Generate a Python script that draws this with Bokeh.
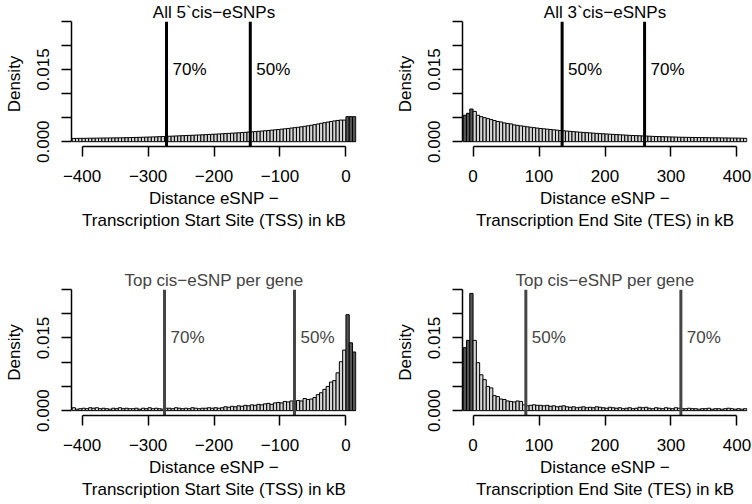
import numpy as np
from bokeh.plotting import figure
from bokeh.layouts import column, row
from bokeh.models import Range1d, FixedTicker, ColumnDataSource
from bokeh.core.properties import value
from bokeh.embed import file_html
from bokeh.resources import INLINE

# ---------------- data ----------------
BIN = 5
tss_edges = list(range(-415, 15, BIN))   # left edges of 5 kB bins (TSS panels)
tes_edges = list(range(-15, 415, BIN))   # left edges of 5 kB bins (TES panels)

all5_density = [
    0.00068, 0.00069, 0.00070, 0.00070, 0.00071, 0.00072, 0.00073, 0.00074, 0.00075, 0.00076,
    0.00077, 0.00078, 0.00079, 0.00080, 0.00081, 0.00082, 0.00083, 0.00085, 0.00087, 0.00089,
    0.00091, 0.00093, 0.00095, 0.00097, 0.00099, 0.00101, 0.00104, 0.00107, 0.00110, 0.00113,
    0.00116, 0.00119, 0.00122, 0.00125, 0.00128, 0.00131, 0.00134, 0.00137, 0.00140, 0.00143,
    0.00147, 0.00150, 0.00154, 0.00157, 0.00161, 0.00165, 0.00169, 0.00173, 0.00177, 0.00181,
    0.00185, 0.00190, 0.00195, 0.00200, 0.00205, 0.00210, 0.00216, 0.00222, 0.00228, 0.00234,
    0.00240, 0.00247, 0.00254, 0.00261, 0.00268, 0.00276, 0.00284, 0.00292, 0.00300, 0.00310,
    0.00320, 0.00330, 0.00342, 0.00355, 0.00368, 0.00382, 0.00395, 0.00408, 0.00420, 0.00432,
    0.00442, 0.00450, 0.00450, 0.00520, 0.00520, 0.00520,
]
all3_density = [
    0.00550, 0.00590, 0.00680, 0.00630, 0.00550, 0.00520, 0.00500, 0.00480, 0.00460, 0.00440,
    0.00420, 0.00410, 0.00390, 0.00380, 0.00370, 0.00350, 0.00340, 0.00330, 0.00320, 0.00310,
    0.00300, 0.00292, 0.00283, 0.00275, 0.00268, 0.00261, 0.00254, 0.00247, 0.00240, 0.00233,
    0.00227, 0.00221, 0.00215, 0.00209, 0.00203, 0.00198, 0.00193, 0.00188, 0.00183, 0.00178,
    0.00173, 0.00168, 0.00164, 0.00160, 0.00156, 0.00152, 0.00148, 0.00144, 0.00140, 0.00136,
    0.00132, 0.00129, 0.00126, 0.00123, 0.00120, 0.00117, 0.00114, 0.00111, 0.00108, 0.00106,
    0.00104, 0.00102, 0.00100, 0.00098, 0.00096, 0.00094, 0.00092, 0.00091, 0.00090, 0.00088,
    0.00087, 0.00086, 0.00085, 0.00084, 0.00083, 0.00082, 0.00081, 0.00080, 0.00079, 0.00078,
    0.00077, 0.00076, 0.00075, 0.00074, 0.00072, 0.00070,
]
top5_density = [
    0.0006, 0.0003, 0.0004, 0.0005, 0.0004, 0.0006, 0.0005, 0.0006, 0.0004, 0.0005,
    0.0004, 0.0003, 0.0005, 0.0004, 0.0006, 0.0004, 0.0005, 0.0004, 0.0004, 0.0005,
    0.0003, 0.0005, 0.0004, 0.0006, 0.0004, 0.0005, 0.0004, 0.0003, 0.0005, 0.0005,
    0.0004, 0.0006, 0.0005, 0.0004, 0.0005, 0.0004, 0.0006, 0.0005, 0.0004, 0.0005,
    0.0005, 0.0006, 0.0005, 0.0006, 0.0005, 0.0006, 0.0008, 0.0007, 0.0009, 0.0008,
    0.0010, 0.0009, 0.0011, 0.0010, 0.0012, 0.0011, 0.0013, 0.0012, 0.0014, 0.0015,
    0.0013, 0.0016, 0.0017, 0.0016, 0.0019, 0.0018, 0.0020, 0.0019, 0.0021, 0.0020,
    0.0025, 0.0023, 0.0024, 0.0027, 0.0033, 0.0037, 0.0044, 0.0050, 0.0059, 0.0062,
    0.0078, 0.0101, 0.0125, 0.0198, 0.0140, 0.0121,
]
top3_density = [
    0.0130, 0.0145, 0.0242, 0.0145, 0.0099, 0.0074, 0.0064, 0.0050, 0.0047, 0.0031,
    0.0029, 0.0024, 0.0023, 0.0020, 0.0019, 0.0018, 0.0020, 0.0019, 0.0012, 0.0010,
    0.0011, 0.0012, 0.0011, 0.0011, 0.0010, 0.0011, 0.0009, 0.0010, 0.0008, 0.0009,
    0.0010, 0.0008, 0.0007, 0.0008, 0.0006, 0.0007, 0.0008, 0.0006, 0.0007, 0.0006,
    0.0008, 0.0007, 0.0006, 0.0005, 0.0007, 0.0006, 0.0005, 0.0006, 0.0004, 0.0005,
    0.0006, 0.0004, 0.0005, 0.0007, 0.0006, 0.0007, 0.0005, 0.0004, 0.0006, 0.0005,
    0.0004, 0.0006, 0.0005, 0.0004, 0.0006, 0.0005, 0.0004, 0.0004, 0.0005, 0.0004,
    0.0004, 0.0003, 0.0004, 0.0004, 0.0005, 0.0003, 0.0004, 0.0004, 0.0003, 0.0004,
    0.0005, 0.0004, 0.0003, 0.0004, 0.0003, 0.0004,
]

all5_lines = [-272, -145]
all5_labels = ["70%", "50%"]
all3_lines = [135, 260]
all3_labels = ["50%", "70%"]
top5_lines = [-275, -78]
top5_labels = ["70%", "50%"]
top3_lines = [80, 315]
top3_labels = ["50%", "70%"]

tss_ticks = [-400, -300, -200, -100, 0]
tes_ticks = [0, 100, 200, 300, 400]
y_ticks = [0.0, 0.005, 0.010, 0.015, 0.020, 0.025]
y_tick_labels = ["0.000", "", "", "0.015", "", ""]

titles = ["All 5`cis\u2212eSNPs", "All 3`cis\u2212eSNPs",
          "Top cis\u2212eSNP per gene", "Top cis\u2212eSNP per gene"]
xlab_tss = "Distance eSNP \u2212\nTranscription Start Site (TSS) in kB"
xlab_tes = "Distance eSNP \u2212\nTranscription End Site (TES) in kB"

FONT = "Liberation Sans"
FS = "17px"
LIGHT = "#d6d6d6"
DARK = "#555555"
GREY = "#454545"


def fmt_tick(v):
    s = "%d" % v
    return s.replace("-", "\u2212")


def panel(edges, dens, lines, labels, title, xlab, xticks, xr, inside_pos,
          border, accent, text_col):
    bl, br, bt, bb = border
    p = figure(width=376, height=252, output_backend="svg", toolbar_location=None,
               x_range=Range1d(*xr), y_range=Range1d(-0.001, 0.025),
               min_border_left=bl, min_border_right=br, min_border_top=bt,
               min_border_bottom=bb)
    p.outline_line_color = None
    p.grid.visible = False
    left = np.array(edges, dtype=float)
    right = left + BIN
    if inside_pos:
        colors = [DARK if l >= 0 else LIGHT for l in left]
    else:
        colors = [DARK if l < 0 else LIGHT for l in left]
    src = ColumnDataSource(dict(left=left, right=right, top=dens,
                                bottom=[0] * len(dens), color=colors))
    p.quad(left="left", right="right", top="top", bottom="bottom", source=src,
           fill_color="color", line_color="black", line_width=1)
    p.segment(x0=lines, y0=[-0.001] * len(lines), x1=lines, y1=[0.025] * len(lines),
              line_color=accent, line_width=3)
    p.text(x=lines, y=[0.015] * len(lines), text=labels, x_offset=6,
           text_baseline="middle", text_align="left", text_color=text_col,
           text_font=value(FONT), text_font_size=FS)
    # title
    p.title.text = title
    p.title.align = "center"
    p.title.text_font = FONT
    p.title.text_font_size = FS
    p.title.text_font_style = "normal"
    p.title.text_color = text_col
    p.title.standoff = 0
    p.title.offset = 0
    # axes
    xa = p.xaxis[0]
    xa.ticker = FixedTicker(ticks=xticks)
    xa.bounds = (xticks[0], xticks[-1])
    xa.major_label_overrides = {t: fmt_tick(t) for t in xticks}
    xa.axis_label = xlab
    ya = p.yaxis[0]
    ya.ticker = FixedTicker(ticks=y_ticks)
    ya.bounds = (0, 0.025)
    ya.major_label_overrides = dict(zip(y_ticks, y_tick_labels))
    ya.major_label_orientation = "vertical"
    ya.axis_label = "Density"
    for ax in (xa, ya):
        ax.axis_line_color = "black"
        ax.axis_line_width = 1.5
        ax.major_tick_line_width = 1.5
        ax.major_tick_line_color = "black"
        ax.major_tick_out = 10
        ax.major_tick_in = 0
        ax.minor_tick_line_color = None
        ax.major_label_text_font = FONT
        ax.major_label_text_font_size = FS
        ax.major_label_text_color = "black"
        ax.axis_label_text_font = FONT
        ax.axis_label_text_font_size = FS
        ax.axis_label_text_font_style = "normal"
        ax.axis_label_text_color = "black"
    xa.major_label_standoff = 13
    xa.axis_label_standoff = 4
    ya.major_label_standoff = 12
    ya.axis_label_standoff = 11
    return p


p1 = panel(tss_edges, all5_density, all5_lines, all5_labels, titles[0], xlab_tss,
           tss_ticks, (-416, 16), True, (71, 20, 20, 106), "black", "black")
p2 = panel(tes_edges, all3_density, all3_lines, all3_labels, titles[1], xlab_tes,
           tes_ticks, (-16, 416), False, (86, 5, 20, 106), "black", "black")
p3 = panel(tss_edges, top5_density, top5_lines, top5_labels, titles[2], xlab_tss,
           tss_ticks, (-416, 16), True, (71, 20, 37, 89), GREY, GREY)
p4 = panel(tes_edges, top3_density, top3_lines, top3_labels, titles[3], xlab_tes,
           tes_ticks, (-16, 416), False, (86, 5, 37, 89), GREY, GREY)

layout = column(row(p1, p2), row(p3, p4))
open("out.html", "w").write(file_html(layout, INLINE))
